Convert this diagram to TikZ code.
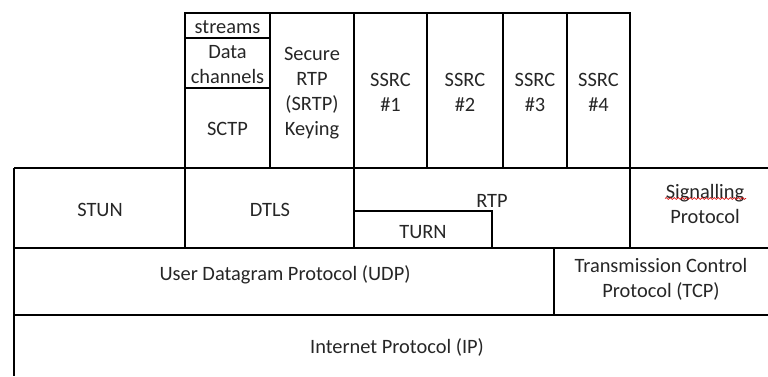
\documentclass[tikz,border=0pt]{standalone}
\usepackage{fontspec}
\setmainfont{Carlito}
\usetikzlibrary{decorations.pathmorphing}
\begin{document}
\begin{tikzpicture}[x=0.75pt,y=-0.75pt,
  layer/.style={draw=black,line width=1.4pt},
  lbl/.style={align=center,inner sep=0pt,text=black!85,
    font=\fontsize{15.3pt}{18.75pt}\selectfont},
  squiggle/.style={draw=red!85!black,line width=0.5pt,
    decorate,decoration={snake,segment length=3pt,amplitude=0.7pt}}]
\useasboundingbox (0,0) rectangle (768,376);

% upper stack above DTLS / RTP
\draw[layer] (185,13) rectangle (270,38);
\draw[layer] (185,38) rectangle (270,88);
\draw[layer] (185,88) rectangle (270,168);
\draw[layer] (270,13) rectangle (354,168);
\draw[layer] (354,13) rectangle (427,168);
\draw[layer] (427,13) rectangle (503,168);
\draw[layer] (503,13) rectangle (567,168);
\draw[layer] (567,13) rectangle (630,168);

% middle row
\draw[layer] (14,168) -- (768,168);
\draw[layer] (14,168) -- (14,376);
\draw[layer] (185,168) -- (185,248);
\draw[layer] (354,168) -- (354,248);
\draw[layer] (630,168) -- (630,248);
\draw[layer] (354,211) -- (492,211) -- (492,248);
\draw[layer] (14,248) -- (768,248);

% transport and network rows
\draw[layer] (554,248) -- (554,315);
\draw[layer] (14,315) -- (768,315);

% labels
\node[lbl] (streams) at (227.5,27) {streams};
\node[lbl] (datach) at (227.5,65) {Data\\channels};
\node[lbl] (sctp) at (227.5,129) {SCTP};
\node[lbl] (srtp) at (312,93) {Secure\\RTP\\(SRTP)\\Keying};
\node[lbl] (ssrc1) at (390.5,92) {SSRC\\\#1};
\node[lbl] (ssrc2) at (465,92) {SSRC\\\#2};
\node[lbl] (ssrc3) at (535,92) {SSRC\\\#3};
\node[lbl] (ssrc4) at (598.5,92) {SSRC\\\#4};
\node[lbl] (stun) at (100,210) {STUN};
\node[lbl] (dtls) at (270,210) {DTLS};
\node[lbl] (rtp) at (492,201) {RTP};
\node[lbl] (turn) at (423,232) {TURN};
\node[lbl] (sig) at (705,204) {Signalling\\Protocol};
\node[lbl] (udp) at (285,275) {User Datagram Protocol (UDP)};
\node[lbl] (tcp) at (661,279) {Transmission Control\\Protocol (TCP)};
\node[lbl] (ip) at (397,347) {Internet Protocol (IP)};

% spell-check underline below "Signalling"
\coordinate (sqa) at (665,198.5);
\coordinate (sqb) at (746,198.5);
\draw[squiggle] (sqa) -- (sqb);
\end{tikzpicture}
\end{document}
